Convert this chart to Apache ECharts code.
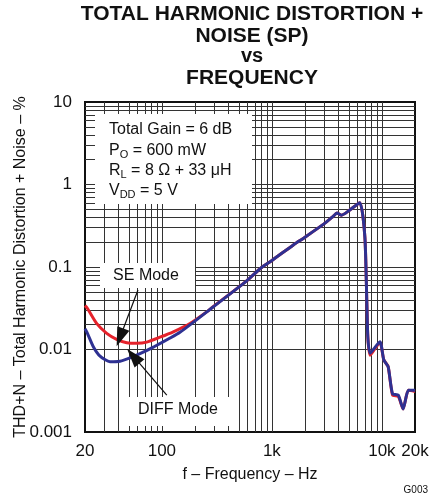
<!DOCTYPE html>
<html>
<head>
<meta charset="utf-8">
<script src="https://cdn.jsdelivr.net/npm/echarts@6/dist/echarts.min.js"></script>
<style>
html,body{margin:0;padding:0;background:#fff;}
#c{width:439px;height:495px;}
</style>
</head>
<body>
<div id="c"></div>
<script>
// ---- data (Hz, %) ----
const seFreq = [20, 21, 25.5, 31.5, 38.8, 47.9, 59, 72.8, 96, 127, 180, 250, 294, 590, 800, 1000, 1566, 2000, 3041, 3600, 3900, 4300, 5000, 6300, 7000, 7300, 7450, 7800, 9600, 10400, 11400, 12500, 14100, 15600, 17400, 20000];
const seThd  = [0.034, 0.0316, 0.0207, 0.0157, 0.0133, 0.0121, 0.0119, 0.0123, 0.0141, 0.0164, 0.0207, 0.028, 0.0332, 0.068, 0.098, 0.12, 0.185, 0.23, 0.34, 0.41, 0.45, 0.425, 0.48, 0.6, 0.233, 0.0366, 0.0143, 0.0085, 0.0122, 0.0075, 0.0062, 0.0028, 0.0027, 0.0019, 0.0032, 0.0031];
const diffFreq = [20, 21, 23.8, 27.4, 33.7, 41.6, 51.3, 63.2, 83.6, 146, 294, 590, 800, 1000, 1566, 2000, 3041, 3600, 3900, 4300, 5000, 6300, 7000, 7300, 7450, 7800, 9600, 10400, 11400, 12500, 14100, 15600, 17400, 20000];
const diffThd  = [0.0178, 0.0158, 0.0108, 0.0083, 0.0071, 0.0072, 0.0079, 0.0089, 0.0107, 0.0162, 0.033, 0.068, 0.098, 0.12, 0.185, 0.23, 0.34, 0.41, 0.45, 0.425, 0.48, 0.6, 0.233, 0.0366, 0.0143, 0.009, 0.0124, 0.0075, 0.0062, 0.0029, 0.0028, 0.0019, 0.0032, 0.0032];

const xTickValues = [20, 100, 1000, 10000, 20000];
const xTickLabels = ['20', '100', '1k', '10k', '20k'];
const yTickValues = [0.001, 0.01, 0.1, 1, 10];
const yTickLabels = ['0.001', '0.01', '0.1', '1', '10'];

const xGrid = [30,40,50,60,70,80,90,100,200,300,400,500,600,700,800,900,1000,2000,3000,4000,5000,6000,7000,8000,9000,10000];
const yGrid = [0.002,0.003,0.004,0.005,0.006,0.007,0.008,0.009,0.01,0.02,0.03,0.04,0.05,0.06,0.07,0.08,0.09,0.1,0.2,0.3,0.4,0.5,0.6,0.7,0.8,0.9,1,2,3,4,5,6,7,8,9];

// annotation arrows: [from, to] in data space
const seArrow = [[60.6, 0.0526], [41.6, 0.0140]];
const diffArrow = [[110.8, 0.0028], [55, 0.0083]];

const FONT = '"Liberation Sans", Arial, Helvetica, sans-serif';

function pairs(f, v) { return f.map((x, i) => [x, v[i]]); }
function labelFor(vals, labs) {
  return function (v) {
    for (let i = 0; i < vals.length; i++) {
      if (Math.abs(Math.log10(v) - Math.log10(vals[i])) < 1e-6) return labs[i];
    }
    return '';
  };
}

const chart = echarts.init(document.getElementById('c'), null, {renderer: 'canvas'});

const gridLines = [].concat(
  xGrid.map(v => ({xAxis: v})),
  yGrid.map(v => ({yAxis: v}))
);

const option = {
  animation: false,
  backgroundColor: '#fff',
  textStyle: {fontFamily: FONT},
  grid: {left: 85, right: 24, top: 102, bottom: 63, show: true, borderColor: '#111', borderWidth: 2, backgroundColor: 'transparent', containLabel: false},
  xAxis: {
    type: 'log', logBase: 10, min: 20, max: 20000,
    name: 'f \u2013 Frequency \u2013 Hz', nameLocation: 'middle', nameGap: 35, nameMoveOverlap: false,
    nameTextStyle: {fontSize: 16, color: '#111', fontFamily: FONT},
    axisLine: {show: true, lineStyle: {color: '#111', width: 2}},
    axisTick: {show: false},
    splitLine: {show: false},
    minorTick: {show: false}, minorSplitLine: {show: false},
    axisLabel: {show: true, fontSize: 17, color: '#111', margin: 11, fontFamily: FONT,
      showMinLabel: true, showMaxLabel: true,
      formatter: labelFor(xTickValues, xTickLabels)}
  },
  yAxis: {
    type: 'log', logBase: 10, min: 0.001, max: 10,
    name: 'THD+N \u2013 Total Harmonic Distortion + Noise \u2013 %', nameLocation: 'middle', nameGap: 56, nameMoveOverlap: false,
    nameTextStyle: {fontSize: 16, color: '#111', fontFamily: FONT},
    axisLine: {show: true, lineStyle: {color: '#111', width: 2}},
    axisTick: {show: false},
    splitLine: {show: false},
    minorTick: {show: false}, minorSplitLine: {show: false},
    axisLabel: {show: true, fontSize: 17, color: '#111', margin: 13, fontFamily: FONT,
      showMinLabel: true, showMaxLabel: true,
      formatter: labelFor(yTickValues, yTickLabels)}
  },
  series: [
    {
      name: 'grid', type: 'line', data: [], z: 1, silent: true,
      markLine: {silent: true, symbol: 'none', animation: false, z: 1,
        label: {show: false},
        lineStyle: {color: '#333', width: 1, type: 'solid'},
        emphasis: {disabled: true},
        data: gridLines}
    },
    {
      name: 'SE Mode', type: 'line', data: pairs(seFreq, seThd), z: 10,
      showSymbol: false, symbol: 'none', smooth: 0.2,
      lineStyle: {color: '#e5222b', width: 3}, itemStyle: {color: '#e5222b'}
    },
    {
      name: 'DIFF Mode', type: 'line', data: pairs(diffFreq, diffThd), z: 11,
      showSymbol: false, symbol: 'none', smooth: 0.2,
      lineStyle: {color: '#2e3192', width: 3}, itemStyle: {color: '#2e3192'}
    },
    {
      name: 'arrows', type: 'line', data: [], z: 20, silent: true,
      markLine: {silent: true, symbol: ['none', 'triangle'], symbolSize: [13, 19], animation: false, z: 20,
        label: {show: false},
        lineStyle: {color: '#111', width: 1.2, type: 'solid'},
        itemStyle: {color: '#111'},
        emphasis: {disabled: true},
        data: [
          [{coord: seArrow[0]}, {coord: seArrow[1]}],
          [{coord: diffArrow[0]}, {coord: diffArrow[1]}]
        ]}
    }
  ],
  graphic: [
    // title
    {type: 'text', x: 252, y: 14, z: 30, style: {text: 'TOTAL HARMONIC DISTORTION +', font: 'bold 21px ' + FONT, fill: '#111', textAlign: 'center', textVerticalAlign: 'middle'}},
    {type: 'text', x: 252, y: 36, z: 30, style: {text: 'NOISE (SP)', font: 'bold 21px ' + FONT, fill: '#111', textAlign: 'center', textVerticalAlign: 'middle'}},
    {type: 'text', x: 252, y: 56, z: 30, style: {text: 'vs', font: 'bold 20px ' + FONT, fill: '#111', textAlign: 'center', textVerticalAlign: 'middle'}},
    {type: 'text', x: 252, y: 78, z: 30, style: {text: 'FREQUENCY', font: 'bold 21px ' + FONT, fill: '#111', textAlign: 'center', textVerticalAlign: 'middle'}},
    // parameter box
    {type: 'rect', z: 5, shape: {x: 95, y: 114, width: 157, height: 90}, style: {fill: '#fff'}},
    {type: 'text', x: 109, y: 130, z: 6, style: {text: 'Total Gain = 6 dB', font: '16px ' + FONT, fill: '#111', textVerticalAlign: 'middle'}},
    {type: 'text', x: 109, y: 151, z: 6, style: {text: '{m|P}{s|O}{m| = 600 mW}', fill: '#111', textVerticalAlign: 'middle',
      rich: {m: {fontSize: 16, fontFamily: FONT, fill: '#111'}, s: {fontSize: 11, fontFamily: FONT, fill: '#111', padding: [8, 0, 0, 0]}}}},
    {type: 'text', x: 109, y: 171, z: 6, style: {text: '{m|R}{s|L}{m| = 8 \u03A9 + 33 \u03BCH}', fill: '#111', textVerticalAlign: 'middle',
      rich: {m: {fontSize: 16, fontFamily: FONT, fill: '#111'}, s: {fontSize: 11, fontFamily: FONT, fill: '#111', padding: [8, 0, 0, 0]}}}},
    {type: 'text', x: 109, y: 191, z: 6, style: {text: '{m|V}{s|DD}{m| = 5 V}', fill: '#111', textVerticalAlign: 'middle',
      rich: {m: {fontSize: 16, fontFamily: FONT, fill: '#111'}, s: {fontSize: 11, fontFamily: FONT, fill: '#111', padding: [8, 0, 0, 0]}}}},
    // SE Mode label
    {type: 'rect', z: 5, shape: {x: 100, y: 263, width: 95, height: 25}, style: {fill: '#fff'}},
    {type: 'text', x: 146, y: 276, z: 6, style: {text: 'SE Mode', font: '16px ' + FONT, fill: '#111', textAlign: 'center', textVerticalAlign: 'middle'}},
    // DIFF Mode label
    {type: 'rect', z: 5, shape: {x: 123, y: 397, width: 114, height: 29}, style: {fill: '#fff'}},
    {type: 'text', x: 178, y: 410, z: 6, style: {text: 'DIFF Mode', font: '16px ' + FONT, fill: '#111', textAlign: 'center', textVerticalAlign: 'middle'}},
    // code
    {type: 'text', x: 428, y: 490, z: 6, style: {text: 'G003', font: '10px ' + FONT, fill: '#111', textAlign: 'right', textVerticalAlign: 'middle'}}
  ]
};
chart.setOption(option);
</script>
</body>
</html>
